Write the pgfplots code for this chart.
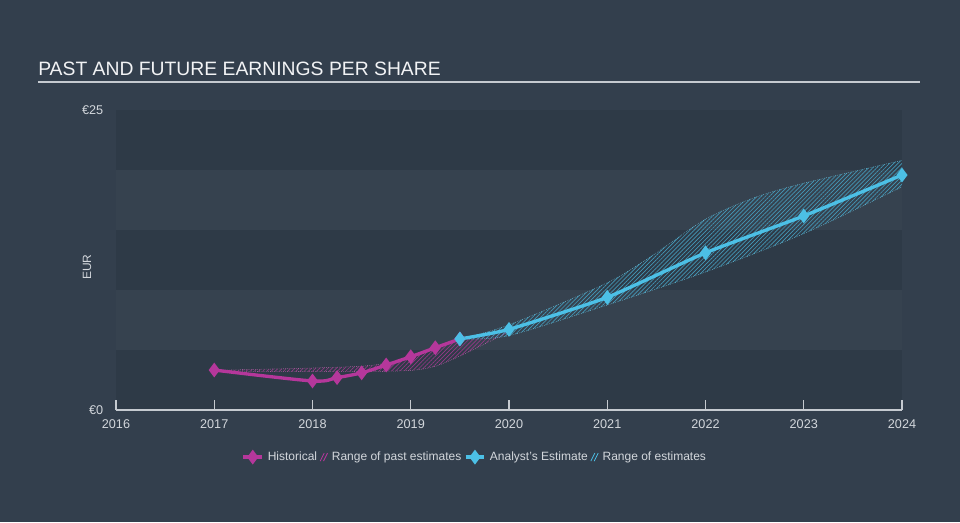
\documentclass[border=0pt]{standalone}
\usepackage{fontspec}
\setmainfont{Liberation Sans}
\usepackage{pgfplots}
\pgfplotsset{compat=1.18}
\usepgfplotslibrary{fillbetween}
\usetikzlibrary{patterns,patterns.meta}
\definecolor{bg}{HTML}{333F4D}
\definecolor{banddark}{HTML}{2E3A47}
\definecolor{bandlight}{HTML}{36424F}
\definecolor{titlec}{HTML}{F2F3F5}
\definecolor{tickc}{HTML}{D3D7DC}
\definecolor{linec}{HTML}{C5CAD0}
\definecolor{magC}{HTML}{B5379B}
\definecolor{cyanC}{HTML}{4CC0E6}
\begin{document}
\begin{tikzpicture}
\begin{axis}[
  set layers, clip=false,
  at={(87pt,84pt)}, anchor=south west, scale only axis,
  width=589.5pt, height=225pt,
  xmin=2016, xmax=2024, ymin=0, ymax=25,
  axis line style={draw=none},
  xtick={2016,2017,2018,2019,2020,2021,2022,2023,2024},
  xticklabels={2016,2017,2018,2019,2020,2021,2022,2023,2024},
  xtick pos=bottom, xtick align=inside,
  major tick length=7.5pt,
  xtick style={draw=linec, line width=0.8pt},
  ytick={0,25}, yticklabels={€0,€25},
  ytick style={draw=none},
  ticklabel style={text=tickc, font=\fontsize{9.5}{11}\selectfont},
  xticklabel style={yshift=-4pt},
  yticklabel style={xshift=-6pt},
  legend style={at={(0.457,-0.157)}, anchor=center, draw=none, fill=none,
    text=tickc, font=\fontsize{9}{10}\selectfont, legend cell align=left},
  legend columns=4,
  /tikz/every odd column/.append style={column sep=1pt},
]
\begin{pgfonlayer}{axis background}
\fill[bg] (rel axis cs:-0.147583,-0.373333) rectangle (rel axis cs:1.073791,1.366667);
\fill[banddark] (axis cs:2016,0) rectangle (axis cs:2024,5);
\fill[bandlight] (axis cs:2016,5) rectangle (axis cs:2024,10);
\fill[banddark] (axis cs:2016,10) rectangle (axis cs:2024,15);
\fill[bandlight] (axis cs:2016,15) rectangle (axis cs:2024,20);
\fill[banddark] (axis cs:2016,20) rectangle (axis cs:2024,25);
\end{pgfonlayer}
\draw[linec, line width=0.8pt] (rel axis cs:0,0) -- (rel axis cs:1,0);

\addlegendimage{legend image code/.code={\draw[magC, line width=2.5pt, mark=diamond*, mark size=3.5pt, mark repeat=2, mark phase=2] plot coordinates {(0pt,0pt) (7pt,0pt) (14pt,0pt)};}}
\addlegendentry{Historical}
\addlegendimage{legend image code/.code={\draw[magC, line width=0.6pt] (0pt,-3pt) -- (3pt,3pt) (2.5pt,-3pt) -- (5.5pt,3pt);}}
\addlegendentry{Range of past estimates\hspace{6pt}}
\addlegendimage{legend image code/.code={\draw[cyanC, line width=2.5pt, mark=diamond*, mark size=3.5pt, mark repeat=2, mark phase=2] plot coordinates {(0pt,0pt) (7pt,0pt) (14pt,0pt)};}}
\addlegendentry{Analyst's Estimate}
\addlegendimage{legend image code/.code={\draw[cyanC, line width=0.6pt] (0pt,-3pt) -- (3pt,3pt) (2.5pt,-3pt) -- (5.5pt,3pt);}}
\addlegendentry{Range of estimates}

% past estimates range
\addplot[name path=pu, forget plot, smooth, draw=magC!70, line width=0.4pt, densely dotted] coordinates {
(2017,3.3) (2017.5,3.4) (2018,3.5) (2018.5,3.65) (2018.75,3.9) (2019,4.4) (2019.25,5.1) (2019.5,5.9) (2020,6.7)};
\addplot[name path=pl, forget plot, smooth, draw=magC!70, line width=0.4pt, densely dotted] coordinates {
(2017,3.3) (2017.5,3.2) (2018,3.2) (2018.5,3.2) (2019,3.3) (2019.25,3.65) (2019.5,4.5) (2019.75,5.5) (2020,6.5)};
\addplot[forget plot, draw=none, pattern={Lines[angle=45,distance=2.2pt,line width=0.5pt]}, pattern color=magC!75!bg] fill between[of=pu and pl];

% future estimates range
\addplot[name path=fu, forget plot, smooth, draw=cyanC!80, line width=0.4pt, densely dotted] coordinates {
(2019.5,5.92) (2020,7.1) (2021,10.6) (2021.5,13.1) (2022,15.9) (2022.5,17.7) (2023,18.9) (2024,20.8)};
\addplot[name path=fl, forget plot, smooth, draw=cyanC!80, line width=0.4pt, densely dotted] coordinates {
(2019.5,5.92) (2020,6.2) (2021,8.75) (2022,11.5) (2023,14.7) (2024,18.6)};
\addplot[forget plot, draw=none, pattern={Lines[angle=45,distance=2.2pt,line width=0.5pt]}, pattern color=cyanC!70!bg] fill between[of=fu and fl];

% historical
\addplot[forget plot, color=magC, line width=2.5pt, smooth, tension=0.5, mark=diamond*, mark size=3.5pt] coordinates {
(2017,3.33) (2018,2.42) (2018.25,2.7) (2018.5,3.1) (2018.75,3.75) (2019,4.44) (2019.25,5.19) (2019.5,5.92)};
% analyst
\addplot[forget plot, color=cyanC, line width=2.5pt, smooth, tension=0.3, mark=diamond*, mark size=3.5pt] coordinates {
(2019.5,5.92) (2020,6.72) (2021,9.39) (2022,13.1) (2023,16.17) (2024,19.58)};
\end{axis}
\node[anchor=base west, text=titlec, font=\fontsize{14.5}{17}\selectfont, inner sep=0pt] at (28.5pt,334.5pt) {PAST AND FUTURE EARNINGS PER SHARE};
\draw[linec, line width=1pt] (28.5pt,330pt) -- (690pt,330pt);
\node[rotate=90, text=tickc, font=\fontsize{9}{10}\selectfont] at (65.25pt,191.25pt) {EUR};
\end{tikzpicture}
\end{document}
